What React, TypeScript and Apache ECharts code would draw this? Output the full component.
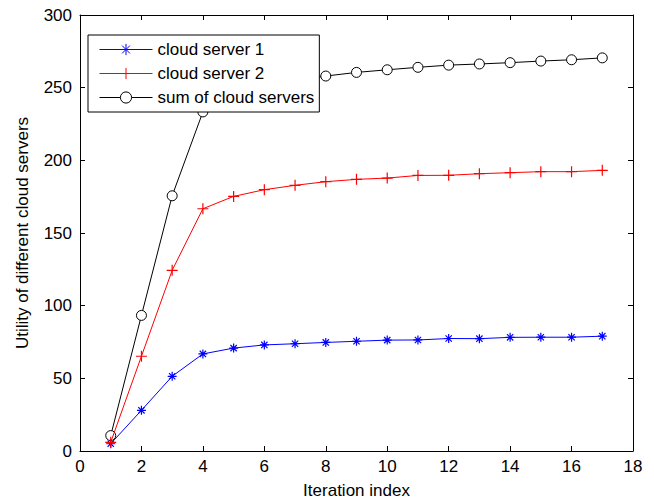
import React, { useEffect, useRef } from "react";
import * as echarts from "echarts";

const iterations = [1, 2, 3, 4, 5, 6, 7, 8, 9, 10, 11, 12, 13, 14, 15, 16, 17];
const server1 = [5, 28, 51.4, 66.8, 70.8, 73, 73.8, 74.7, 75.5, 76.3, 76.4, 77.4, 77.3, 78.2, 78.3, 78.3, 79];
const server2 = [6, 65.2, 124.3, 166.7, 175.2, 179.8, 182.8, 185.3, 186.9, 187.8, 189.6, 189.7, 190.8, 191.5, 192.2, 192.2, 193.1];
const sumServers = [10.6, 93.3, 175.6, 233.3, 246, 251.5, 255, 258, 260.5, 262.3, 264, 265.5, 266.3, 267.2, 268.3, 269.2, 270.5];
const seriesNames = ["cloud server 1", "cloud server 2", "sum of cloud servers"];

const FONT = "Liberation Sans, Arial, sans-serif";
const FS = 17;
const ASTERISK = "path://M0,5L10,5M5,0L5,10M1.5,1.5L8.5,8.5M8.5,1.5L1.5,8.5";
const PLUS = "path://M0,5L10,5M5,0L5,10";
const CIRCLE = "path://M10,5A5,5 0 1,1 0,5A5,5 0 1,1 10,5Z";

const pairs = (ys: number[]) => iterations.map((x, i) => [x, ys[i]]);

export default function App() {
  const ref = useRef<HTMLDivElement>(null);
  useEffect(() => {
    document.body.style.margin = "0";
    const chart = echarts.init(ref.current!, null, { renderer: "svg" });
    const axisCommon = {
      type: "value" as const,
      axisLine: { show: true, onZero: false, lineStyle: { color: "#000", width: 1 } },
      axisTick: { show: true, inside: true, length: 5, lineStyle: { color: "#000", width: 1 } },
      splitLine: { show: false },
    };
    chart.setOption({
      animation: false,
      backgroundColor: "#fff",
      textStyle: { fontFamily: FONT },
      grid: { left: 80, right: 21, top: 15, bottom: 51, containLabel: false },
      legend: {
        orient: "vertical",
        left: 88,
        top: 35,
        padding: [6, 5, 6, 11],
        itemWidth: 53,
        itemHeight: 14,
        itemGap: 7,
        backgroundColor: "#fff",
        borderColor: "#000",
        borderWidth: 1,
        borderRadius: 0,
        lineStyle: { width: 1 },
        itemStyle: { borderWidth: 1 },
        textStyle: { color: "#000", fontSize: FS, fontFamily: FONT },
        data: seriesNames,
      },
      xAxis: [
        {
          ...axisCommon,
          position: "bottom",
          min: 0,
          max: 18,
          interval: 2,
          name: "Iteration index",
          nameLocation: "middle",
          nameGap: 31,
          nameTextStyle: { color: "#000", fontSize: FS, fontFamily: FONT },
          axisLabel: { color: "#000", fontSize: FS, fontFamily: FONT, margin: 7 },
        },
        {
          ...axisCommon,
          position: "top",
          min: 0,
          max: 18,
          interval: 2,
          axisLabel: { show: false },
        },
      ],
      yAxis: [
        {
          ...axisCommon,
          position: "left",
          min: 0,
          max: 300,
          interval: 50,
          name: "Utility of different cloud servers",
          nameLocation: "middle",
          nameGap: 49,
          nameTextStyle: { color: "#000", fontSize: FS, fontFamily: FONT },
          axisLabel: { color: "#000", fontSize: FS, fontFamily: FONT, margin: 8 },
        },
        {
          ...axisCommon,
          position: "right",
          min: 0,
          max: 300,
          interval: 50,
          axisLabel: { show: false },
        },
      ],
      series: [
        {
          name: seriesNames[0],
          type: "line",
          data: pairs(server1),
          symbol: ASTERISK,
          symbolSize: 9,
          lineStyle: { color: "#0000ff", width: 1 },
          itemStyle: { color: "#0000ff", borderColor: "#0000ff", borderWidth: 1.2 },
          z: 3,
        },
        {
          name: seriesNames[1],
          type: "line",
          data: pairs(server2),
          symbol: PLUS,
          symbolSize: 11,
          lineStyle: { color: "#ff0000", width: 1 },
          itemStyle: { color: "#ff0000", borderColor: "#ff0000", borderWidth: 1.2 },
          z: 3,
        },
        {
          name: seriesNames[2],
          type: "line",
          data: pairs(sumServers),
          symbol: CIRCLE,
          symbolSize: 10,
          lineStyle: { color: "#000", width: 1 },
          itemStyle: { color: "#fff", borderColor: "#000", borderWidth: 1 },
          z: 2,
        },
      ],
    });
    return () => chart.dispose();
  }, []);
  return <div ref={ref} style={{ width: 654, height: 504 }} />;
}
